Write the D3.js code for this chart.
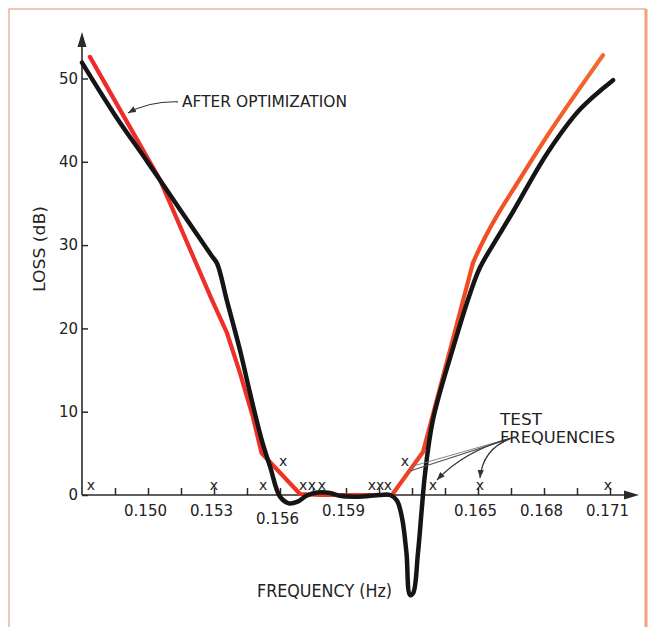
<!DOCTYPE html>
<html><head><meta charset="utf-8">
<script src="https://cdn.jsdelivr.net/npm/d3@7"></script>
<style>
body{margin:0;background:#fff}
svg{display:block}
text{font-family:"DejaVu Sans","Liberation Sans",Arial,sans-serif;fill:#222}
</style>
</head><body>
<svg id="c" width="653" height="627"></svg>
<script>
// ---- data ----
const blackFreq = [0.14700,0.14850,0.15000,0.15150,0.15290,0.15314,0.15358,0.15418,0.15464,0.15517,0.15555,0.15600,0.15640,0.15680,0.15720,0.15770,0.15827,0.15873,0.15950,0.16055,0.16100,0.16132,0.16155,0.16175,0.16191,0.16205,0.16227,0.16245,0.16259,0.16295,0.16386,0.16464,0.16509,0.16586,0.16659,0.16814,0.16964,0.17114];
const blackLoss = [51.9,45.6,39.9,34.1,28.7,27.8,23.4,17.4,12.2,6.6,3.4,-0.2,-1.0,-0.8,-0.1,0.3,0.25,-0.1,-0.2,0.0,0.0,-0.7,-2.8,-7.0,-12.0,-11.8,-7.0,-1.5,2.5,9.0,17.6,24.2,27.3,30.8,34.0,41.0,46.3,49.8];
const redFreq = [0.14736,0.15055,0.15291,0.15359,0.15418,0.15477,0.15516,0.15691,0.15782,0.16109,0.16250,0.16373,0.16477,0.16523,0.16600,0.16659,0.16814,0.16964,0.17068];
const redLoss = [52.6,37.8,23.4,19.45,14.65,9.36,5.04,0.12,0.0,0.0,5.16,17.4,27.85,30.6,34.2,36.6,43.2,48.9,52.8];
const redSmoothFrom = 12; // index of the upper-right bend, after which the curve is smooth
const testFreq = [0.14741,0.15300,0.15523,0.15614,0.15705,0.15745,0.15791,0.16018,0.16055,0.16091,0.16168,0.16295,0.16509,0.17091];
const testLoss = [1.1,1.1,1.1,4.0,1.1,1.1,1.1,1.1,1.1,1.1,4.0,1.1,1.1,1.1];
const yTicks = [0,10,20,30,40,50];
const xTicks = [0.1485,0.150,0.1515,0.153,0.1545,0.156,0.1575,0.159,0.1605,0.162,0.1635,0.165,0.1665,0.168,0.1695,0.171];
const xLabels = [0.150,0.153,0.156,0.159,0.165,0.168,0.171];

// ---- layout ----
const svg = d3.select("#c");
const x = d3.scaleLinear().domain([0.147,0.171]).range([82,610]);
const y = d3.scaleLinear().domain([0,50]).range([495,78.5]);
const axisColor = "#2a2a2a";
const FONT = "'DejaVu Sans','Liberation Sans',Arial,sans-serif";

// frame
svg.append("path").attr("d","M9,627 L9,9 L646,9").attr("fill","none").attr("stroke","#eeb49a").attr("stroke-width",1.5);
svg.append("line").attr("x1",646).attr("x2",646).attr("y1",9).attr("y2",627).attr("stroke","#f0a278").attr("stroke-width",3);

const defs = svg.append("defs");
const grad = defs.append("linearGradient").attr("id","rg").attr("gradientUnits","userSpaceOnUse")
  .attr("x1",82).attr("x2",610).attr("y1",0).attr("y2",0);
grad.append("stop").attr("offset","0").attr("stop-color","#ee2a2c");
grad.append("stop").attr("offset","0.45").attr("stop-color","#ee3424");
grad.append("stop").attr("offset","0.75").attr("stop-color","#f04c22");
grad.append("stop").attr("offset","1").attr("stop-color","#f46a2c");
defs.append("marker").attr("id","ah").attr("viewBox","0 0 10 8").attr("refX",10).attr("refY",4)
  .attr("markerWidth",8).attr("markerHeight",6.4).attr("markerUnits","userSpaceOnUse").attr("orient","auto")
  .append("path").attr("d","M0,0 L10,4 L0,8 Z").attr("fill","#333");

// axes
const xAxis = d3.axisBottom(x).tickValues(xTicks).tickSizeInner(-7).tickSizeOuter(0)
  .tickFormat(d => xLabels.some(v => Math.abs(v-d)<1e-7) ? d3.format(".3f")(d) : "");
const gx = svg.append("g").attr("transform","translate(0,495)").call(xAxis);
gx.select(".domain").remove();
gx.selectAll(".tick line").attr("stroke",axisColor).attr("stroke-width",1.5);
gx.selectAll(".tick text").attr("dy",0).attr("dx",-3)
  .attr("y", d => Math.abs(d-0.156)<1e-7 ? 29 : 21)
  .attr("font-size",15).attr("fill","#222").style("font-family",FONT);

const yAxis = d3.axisLeft(y).tickValues(yTicks).tickSizeInner(-6).tickSizeOuter(0).tickFormat(d3.format("d"));
const gy = svg.append("g").attr("transform","translate(82,0)").call(yAxis);
gy.select(".domain").remove();
gy.selectAll(".tick line").attr("stroke",axisColor).attr("stroke-width",1.5);
gy.selectAll(".tick text").attr("x",-4).attr("font-size",15).attr("fill","#222").style("font-family",FONT);

// axis lines with arrows
svg.append("line").attr("x1",x(0.147)).attr("x2",x(0.147)).attr("y1",y(0)).attr("y2",44).attr("stroke",axisColor).attr("stroke-width",1.6);
svg.append("path").attr("d",`M${x(0.147)},32 L${x(0.147)-4.5},47 L${x(0.147)+4.5},47 Z`).attr("fill",axisColor);
svg.append("line").attr("x1",x(0.147)).attr("x2",627).attr("y1",y(0)).attr("y2",y(0)).attr("stroke",axisColor).attr("stroke-width",1.6);
svg.append("path").attr("d",`M639,${y(0)} L624,${y(0)-4.5} L624,${y(0)+4.5} Z`).attr("fill",axisColor);

// axis titles
svg.append("text").attr("transform","translate(45,249) rotate(-90)").attr("text-anchor","middle")
  .attr("font-size",15).attr("textLength",86).attr("lengthAdjust","spacingAndGlyphs").text("LOSS (dB)");
svg.append("text").attr("x",257).attr("y",597).attr("font-size",17)
  .attr("textLength",135).attr("lengthAdjust","spacingAndGlyphs").text("FREQUENCY (Hz)");

// curves
const redData = redFreq.map((f,i)=>[f,redLoss[i]]);
const blackData = blackFreq.map((f,i)=>[f,blackLoss[i]]);
const redStyle = p => p.attr("fill","none").attr("stroke","url(#rg)").attr("stroke-width",4.2)
  .attr("stroke-linecap","round").attr("stroke-linejoin","round");
svg.append("path").datum(redData.slice(0,redSmoothFrom+1))
  .attr("d", d3.line().x(d=>x(d[0])).y(d=>y(d[1])).curve(d3.curveLinear)).call(redStyle);
svg.append("path").datum(redData.slice(redSmoothFrom))
  .attr("d", d3.line().x(d=>x(d[0])).y(d=>y(d[1])).curve(d3.curveBasis)).call(redStyle);
svg.append("path").datum(blackData)
  .attr("d", d3.line().x(d=>x(d[0])).y(d=>y(d[1])).curve(d3.curveCatmullRom.alpha(0.5)))
  .attr("fill","none").attr("stroke","#151515").attr("stroke-width",4.5)
  .attr("stroke-linecap","round").attr("stroke-linejoin","round");

// test-frequency markers
svg.append("g").selectAll("text").data(testFreq.map((f,i)=>[f,testLoss[i]])).join("text")
  .attr("x",d=>x(d[0])).attr("y",d=>y(d[1])).attr("dy","0.3em").attr("text-anchor","middle")
  .attr("font-size",14).attr("fill","#1a1a2a").text("x");

// annotations (data coordinates)
const P = (f,l)=>[x(f),y(l)];
svg.append("text").attr("x",x(0.151545)).attr("y",y(46.58)).attr("font-size",15)
  .attr("textLength",165).attr("lengthAdjust","spacingAndGlyphs").text("AFTER OPTIMIZATION");
{
  const a=P(0.151364,47.2), c=P(0.15009,47.3), t=P(0.14909,45.86);
  svg.append("path").attr("d",`M${a} Q${c} ${t}`).attr("fill","none").attr("stroke","#333").attr("stroke-width",1.2).attr("marker-end","url(#ah)");
}
svg.append("text").attr("x",x(0.166)).attr("y",y(8.4)).attr("font-size",16)
  .attr("textLength",42).attr("lengthAdjust","spacingAndGlyphs").text("TEST");
svg.append("text").attr("x",x(0.166)).attr("y",y(6.24)).attr("font-size",16)
  .attr("textLength",115).attr("lengthAdjust","spacingAndGlyphs").text("FREQUENCIES");
{
  const o=P(0.166682,6.96);
  const t1=P(0.16191,2.88), t1b=P(0.16195,3.4);
  svg.append("path").attr("d",`M${o} L${t1}`).attr("fill","none").attr("stroke","#555").attr("stroke-width",1.1);
  svg.append("path").attr("d",`M${o} L${t1b}`).attr("fill","none").attr("stroke","#777").attr("stroke-width",0.9);
  const c2=P(0.164409,5.4), t2=P(0.163136,1.8);
  svg.append("path").attr("d",`M${o} Q${c2} ${t2}`).attr("fill","none").attr("stroke","#333").attr("stroke-width",1.2).attr("marker-end","url(#ah)");
  const c3=P(0.165227,5.8), t3=P(0.165091,2.04);
  svg.append("path").attr("d",`M${o} Q${c3} ${t3}`).attr("fill","none").attr("stroke","#333").attr("stroke-width",1.2).attr("marker-end","url(#ah)");
}
</script>
</body></html>
